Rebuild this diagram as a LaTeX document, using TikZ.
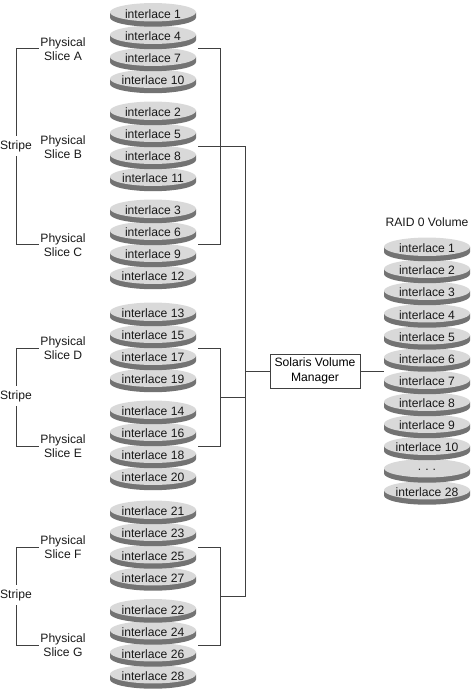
\documentclass[tikz,border=0pt]{standalone}
\usepackage{fontspec}
\setmainfont{Liberation Sans}
\tikzset{
  wire/.style={draw=black!75,line width=0.55pt},
  lbl/.style={font=\fontsize{9.1pt}{10.8pt}\selectfont,align=center,inner sep=0pt,text=black!90},
  gaplbl/.style={lbl,fill=white,inner ysep=3pt,inner xsep=1pt},
  box/.style={draw=black!75,line width=0.55pt,fill=white,minimum width=67.5pt,minimum height=25.5pt,inner sep=0pt,align=center,font=\fontsize{9.1pt}{10.8pt}\selectfont},
  disktop/.style={fill=black!15},
  diskside/.style={fill=black!55},
}
\newcommand{\disk}[4]{%
  \fill[diskside] (#2-43,#3-2.25) -- (#2-43,#3+3) arc[x radius=43,y radius=9.2,start angle=180,end angle=0] -- (#2+43,#3-2.25) -- cycle;
  \fill[disktop] (#2,#3-2.25) ellipse[x radius=43,y radius=9.2];
  \node[lbl] (#1) at (#2,#3-0.5) {#4};
}
\begin{document}
\begin{tikzpicture}[x=0.75pt,y=-0.75pt]
\useasboundingbox (0,0) rectangle (472,693);
\foreach \n/\y/\t in {
 a28/676.5/28,a26/654.5/26,a24/632.5/24,a22/610.5/22,
 a27/578.5/27,a25/556.5/25,a23/534/23,a21/512/21,
 a20/478/20,a18/456/18,a16/434/16,a14/412/14,
 a19/380/19,a17/358/17,a15/336/15,a13/314/13,
 a12/277/12,a9/255/9,a6/233/6,a3/211/3,
 a11/179/11,a8/157/8,a5/135/5,a2/113/2,
 a10/81/10,a7/59/7,a4/37/4,a1/14.5/1}{
  \disk{\n}{153}{\y}{interlace \t}
}
\disk{b28}{427}{492.5}{interlace 28}
\disk{bd}{427}{470.5}{\raisebox{-1pt}{.\,\,.\,\,.}}
\foreach \n/\y/\t in {
 b10/448/10,b9/426/9,b8/404/8,b7/382/7,b6/359.5/6,b5/337.5/5,b4/315.5/4,b3/293/3,b2/271/2,b1/249/1}{
  \disk{\n}{427}{\y}{interlace \t}
}
% named anchors
\coordinate (sa) at (16,48); \coordinate (sc) at (16,244);
\coordinate (sd) at (16,348); \coordinate (se) at (16,446);
\coordinate (sf) at (16,547); \coordinate (sg) at (16,645);
\node[lbl] (pa) at (63,49) {Physical\\Slice A};
\node[lbl] (pb) at (63,147) {Physical\\Slice B};
\node[lbl] (pc) at (63,245) {Physical\\Slice C};
\node[lbl] (pd) at (63,348) {Physical\\Slice D};
\node[lbl] (pe) at (63,446) {Physical\\Slice E};
\node[lbl] (pf) at (63,547) {Physical\\Slice F};
\node[lbl] (pg) at (63,645) {Physical\\Slice G};
\draw[wire] (pa.west |- sa) ++(-1,0) -- (sa) -- (sc) -- ([xshift=-1]pc.west |- sc);
\draw[wire] (pd.west |- sd) ++(-1,0) -- (sd) -- (se) -- ([xshift=-1]pe.west |- se);
\draw[wire] (pf.west |- sf) ++(-1,0) -- (sf) -- (sg) -- ([xshift=-1]pg.west |- sg);
\node[gaplbl] (s1) at (16,146) {Stripe};
\node[gaplbl] (s2) at (16,396) {Stripe};
\node[gaplbl] (s3) at (16,595) {Stripe};
% right brackets
\coordinate (ra) at (198,48); \coordinate (rc) at (198,244);
\coordinate (rb) at (198,146);
\coordinate (rd) at (198,348); \coordinate (re) at (198,446); \coordinate (rde) at (220,397);
\coordinate (rf) at (198,547); \coordinate (rg) at (198,645); \coordinate (rfg) at (220,596);
\coordinate (tt) at (245,146); \coordinate (tb) at (245,596); \coordinate (tm) at (245,371);
\coordinate (tde) at (245,397);
\draw[wire] (ra) -- (220,48) -- (220,244) -- (rc);
\draw[wire] (rd) -- (220,348) -- (220,446) -- (re);
\draw[wire] (rf) -- (220,547) -- (220,645) -- (rg);
\draw[wire] (rb) -- (tt) -- (tb) -- (rfg);
\draw[wire] (rde) -- (tde);
\node[box] (svm) at (315,371) {Solaris Volume\\Manager};
\draw[wire] (tm) -- (svm.west);
\coordinate (v) at (384,371);
\draw[wire] (svm.east) -- (v);
\node[lbl] (rv) at (427,222.5) {RAID 0 Volume};
\end{tikzpicture}
\end{document}
